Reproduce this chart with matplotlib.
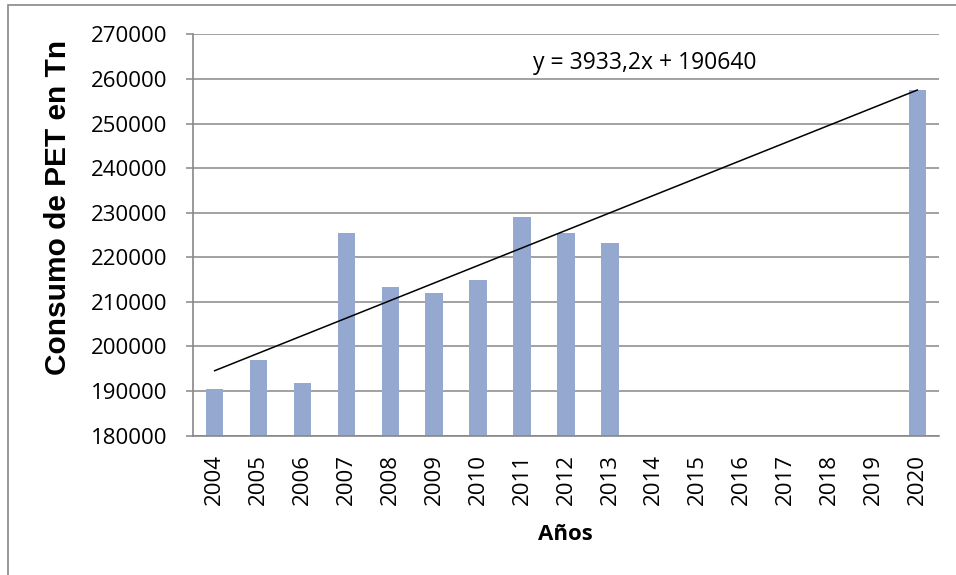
import numpy as np
import matplotlib
matplotlib.use("Agg")
import matplotlib.pyplot as plt
from matplotlib.patches import Rectangle

# datos
years = ["2004", "2005", "2006", "2007", "2008", "2009", "2010", "2011", "2012",
         "2013", "2014", "2015", "2016", "2017", "2018", "2019", "2020"]
consumo = [190400, 196900, 191800, 225400, 213300, 211900, 214900, 229000, 225400,
           223200, np.nan, np.nan, np.nan, np.nan, np.nan, np.nan, 257500]
slope = 3933.2
intercept = 190640
y_ticks = [180000, 190000, 200000, 210000, 220000, 230000, 240000, 250000, 260000, 270000]

grid_gray = "#888888"
bar_color = "#95A9D0"

fig = plt.figure(figsize=(9.56, 5.75), dpi=100)
ax = fig.add_axes([192.7 / 956, 1 - 435.7 / 575, 746.6 / 956, 401.4 / 575])

x = np.arange(len(years))
ax.bar(x, consumo, width=0.40, color=bar_color, zorder=2)

# linea de tendencia (x de 1 a 17 como en Excel)
xt = np.array([1, len(years)])
ax.plot(xt - 1, slope * xt + intercept, color="black", lw=1.1, zorder=3)

ax.set_xlim(-0.5, len(years) - 0.5)
ax.set_ylim(180000, 270000)
ax.set_yticks(y_ticks)
ax.set_yticklabels([str(v) for v in y_ticks])
ax.set_xticks(x)
ax.set_xticklabels(years, rotation=90)

for lab in ax.get_xticklabels() + ax.get_yticklabels():
    lab.set_fontfamily("Open Sans")
    lab.set_fontsize(16)

ax.grid(axis="y", color=grid_gray, lw=1.1, zorder=1)
ax.set_axisbelow(True)
for s in ["top", "right"]:
    ax.spines[s].set_visible(False)
for s in ["left", "bottom"]:
    ax.spines[s].set_color(grid_gray)
    ax.spines[s].set_linewidth(1.2)
ax.tick_params(axis="y", length=5, color=grid_gray, width=1.1, pad=13)
ax.tick_params(axis="x", length=0, pad=13)

ax.text(0.606, 0.9285, "y = 3933,2x + 190640", transform=ax.transAxes,
        ha="center", va="center", fontsize=16.5, family="Open Sans")

fig.text(58 / 956, 1 - 207 / 575, "Consumo de PET en Tn", rotation=90,
         ha="center", va="center", fontsize=21.5, fontweight="bold",
         family="Liberation Sans")
fig.text(565 / 956, 1 - 534 / 575, "Años", ha="center", va="center",
         fontsize=16, fontweight="bold", family="Open Sans")

# marco exterior del grafico
fig.patches.append(Rectangle((8.3 / 956, -0.05), 1.1, 1 - 5 / 575 + 0.05,
                             transform=fig.transFigure, fill=False,
                             edgecolor=grid_gray, lw=1.2, clip_on=False))

fig.savefig("out.png", dpi=100)
